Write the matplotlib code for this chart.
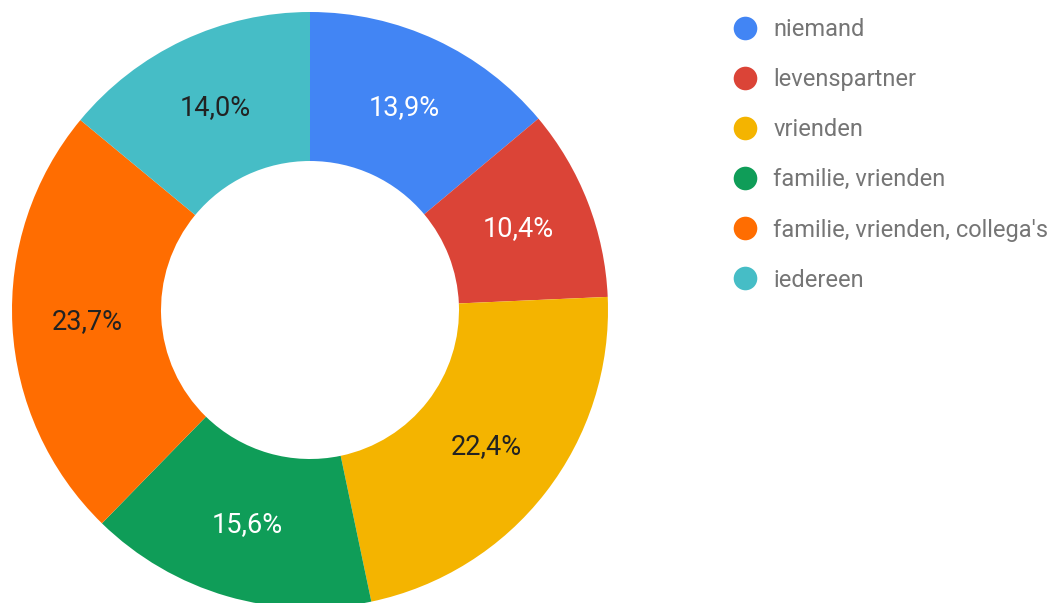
import matplotlib
matplotlib.use('Agg')
import matplotlib.pyplot as plt
from matplotlib.lines import Line2D
import numpy as np

plt.rcParams['font.family'] = ['Roboto', 'DejaVu Sans']

labels = ['niemand', 'levenspartner', 'vrienden', 'familie, vrienden',
          'familie, vrienden, collega\'s', 'iedereen']
values = [13.9, 10.4, 22.4, 15.6, 23.7, 14.0]
colors = ['#4285F4', '#DB4437', '#F4B400', '#0F9D58', '#FF6D01', '#46BDC6']
text_colors = ['white', 'white', '#222222', 'white', '#222222', '#222222']

W, H = 1060, 603
fig = plt.figure(figsize=(W / 100, H / 100), dpi=100)

# donut: centre (310, 310) px from top-left, outer radius 298 px
cx, cy, r = 310, 310, 298
ax = fig.add_axes([(cx - r) / W, (H - cy - r) / H, 2 * r / W, 2 * r / H])
wedges, _ = ax.pie(values, colors=colors, startangle=90, counterclock=False,
                   radius=1, wedgeprops=dict(width=0.5, linewidth=0))
ax.set_xlim(-1, 1)
ax.set_ylim(-1, 1)
ax.axis('off')

for w, v, tc in zip(wedges, values, text_colors):
    ang = np.deg2rad((w.theta1 + w.theta2) / 2)
    ax.text(0.75 * np.cos(ang), 0.75 * np.sin(ang),
            ('%.1f%%' % v).replace('.', ','), color=tc,
            ha='center', va='center', fontsize=19.5)

handles = [Line2D([], [], marker='o', linestyle='', markersize=17,
                  markerfacecolor=c, markeredgewidth=0) for c in colors]
fig.legend(handles, labels, loc='upper left',
           bbox_to_anchor=(733 / W, 1 - 18 / H), frameon=False,
           fontsize=17, labelcolor='#757575', handlelength=1.0,
           handletextpad=0.7, labelspacing=1.15, borderaxespad=0,
           borderpad=0)

fig.savefig('out.png', dpi=100)
